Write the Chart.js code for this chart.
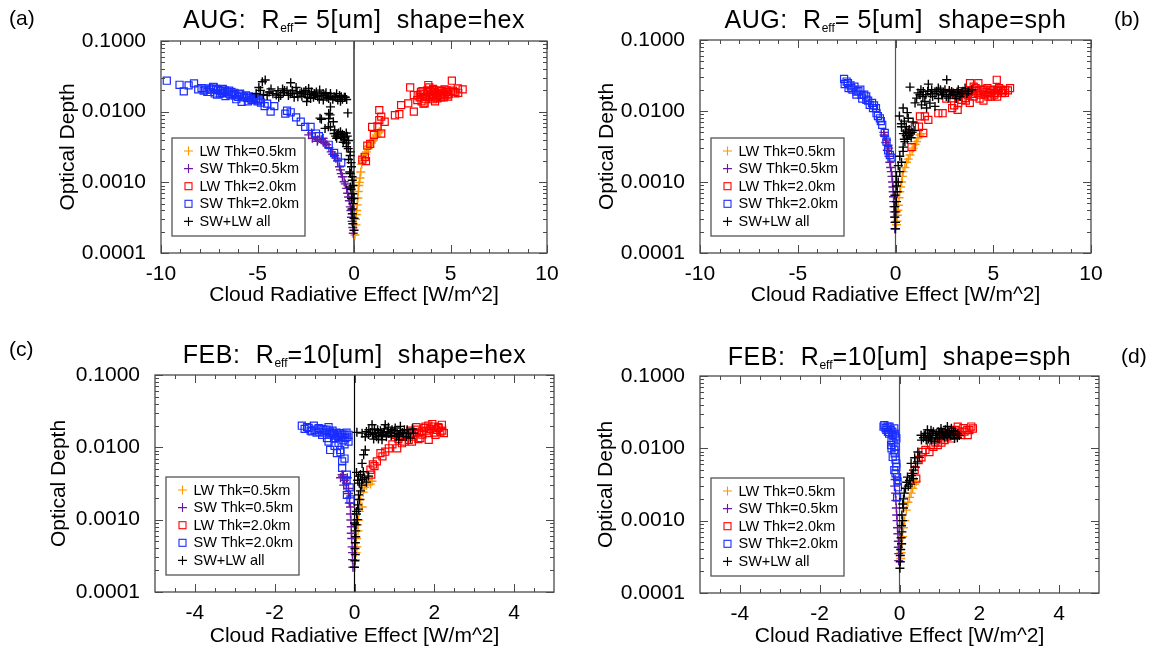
<!DOCTYPE html>
<html>
<head>
<meta charset="utf-8">
<script src="https://cdn.jsdelivr.net/npm/chart.js@4.4.1/dist/chart.umd.min.js"></script>
<style>
  html, body { margin: 0; padding: 0; background: #fff; }
  body { width: 1153px; height: 651px; position: relative; overflow: hidden; font-family: "Liberation Sans", Arial, sans-serif; color: #000; }
  .panel { position: absolute; }
  .panel canvas { display: block; }
  .ttl { position: absolute; font-size: 25px; line-height: 25px; letter-spacing: 0.6px; white-space: pre; transform: translateX(-50%); }
  .ttl .sub { font-size: 12px; letter-spacing: 0; position: relative; top: 4px; }
  .plab { position: absolute; font-size: 21px; line-height: 21px; white-space: pre; }
</style>
</head>
<body>
<script>
// ---------------- data ----------------
const SERIES_LABELS = ['LW Thk=0.5km', 'SW Thk=0.5km', 'LW Thk=2.0km', 'SW Thk=2.0km', 'SW+LW all'];
const Y_MAJOR = [0.0001, 0.001, 0.01, 0.1];
const Y_MINOR = [0.0002,0.0003,0.0004,0.0005,0.0006,0.0007,0.0008,0.0009,0.002,0.003,0.004,0.005,0.006,0.007,0.008,0.009,0.02,0.03,0.04,0.05,0.06,0.07,0.08,0.09];
const X_MAJOR_AUG = [-10, -5, 0, 5, 10];
const X_MINOR_AUG = [-9,-8,-7,-6,-4,-3,-2,-1,1,2,3,4,6,7,8,9];
const X_MAJOR_FEB = [-4, -2, 0, 2, 4];
const X_MINOR_FEB = [-4.5,-3.5,-3,-2.5,-1.5,-1,-0.5,0.5,1,1.5,2.5,3,3.5,4.5];
const ZERO_LINE = [[0, 0.0001], [0, 0.1]];

// (a) AUG hex
const augHexLW05 = [[0.05,0.00018],[0.08,0.0003],[0.10,0.00025],[0.12,0.00035],[0.14,0.0004],[0.17,0.00048],[0.20,0.0006],[0.22,0.00074],[0.25,0.0009],[0.28,0.0010],[0.31,0.00115],[0.35,0.0014],[0.40,0.0018],[0.45,0.0020],[0.50,0.0022],[0.57,0.0025],[0.65,0.0027],[0.70,0.0032],[0.74,0.0030],[0.80,0.0033],[0.90,0.0036],[0.95,0.0038],[1.00,0.0040],[1.10,0.0043],[1.17,0.0047],[1.20,0.0045],[1.25,0.0050],[1.31,0.0052],[1.40,0.0055]];
const augHexSW05 = [[-2.35,0.0047],[-2.20,0.0050],[-2.16,0.0042],[-2.00,0.0044],[-1.90,0.0038],[-1.88,0.0040],[-1.70,0.0040],[-1.60,0.0042],[-1.59,0.0037],[-1.50,0.0036],[-1.41,0.0034],[-1.30,0.0031],[-1.18,0.0027],[-1.10,0.0025],[-1.00,0.0024],[-0.94,0.0022],[-0.85,0.0020],[-0.75,0.00166],[-0.70,0.0015],[-0.66,0.00133],[-0.60,0.0012],[-0.51,0.00102],[-0.45,0.00095],[-0.38,0.00082],[-0.33,0.0007],[-0.28,0.00062],[-0.24,0.00055],[-0.19,0.00045],[-0.16,0.0004],[-0.13,0.00032],[-0.10,0.00028],[-0.06,0.00023],[-0.04,0.00019]];
const augHexLW20 = [[0.43,0.0021],[0.56,0.0023],[0.62,0.0020],[0.69,0.0033],[0.84,0.0035],[1.03,0.0047],[0.94,0.0061],[1.22,0.0062],[1.41,0.0049],[1.31,0.0076],[1.59,0.0072],[1.31,0.0105],[1.41,0.0085],[2.12,0.0089],[2.35,0.0092],[2.44,0.0124],[2.91,0.0220],[2.81,0.0131],[3.10,0.0100],[3.10,0.0172],[3.28,0.0146],[3.30,0.0170],[3.40,0.0160],[3.47,0.0191],[3.50,0.0140],[3.60,0.0180],[3.60,0.0130],[3.66,0.0131],[3.70,0.0150],[3.80,0.0200],[3.85,0.0238],[3.90,0.0160],[3.90,0.0220],[3.94,0.0172],[4.00,0.0180],[4.10,0.0150],[4.10,0.0210],[4.13,0.0202],[4.20,0.0190],[4.20,0.0140],[4.30,0.0170],[4.32,0.0154],[4.40,0.0200],[4.50,0.0181],[4.50,0.0160],[4.60,0.0180],[4.69,0.0207],[4.70,0.0170],[4.78,0.0190],[4.80,0.0200],[4.88,0.0163],[4.90,0.0180],[5.00,0.0190],[5.07,0.0274],[5.12,0.0198],[5.25,0.0181],[5.38,0.0213],[5.63,0.0207],[3.45,0.0175],[3.75,0.0165],[3.95,0.0195],[4.05,0.0165],[4.25,0.0160],[4.35,0.0185],[4.45,0.0170],[4.55,0.0195],[4.65,0.0160],[4.85,0.0175],[5.20,0.0190],[5.40,0.0185],[3.55,0.0195],[4.15,0.0175]];
const augHexSW20 = [[-9.70,0.0274],[-9.04,0.0240],[-8.82,0.0194],[-8.57,0.0236],[-8.29,0.0251],[-8.07,0.0207],[-7.90,0.0215],[-7.79,0.0198],[-7.60,0.0190],[-7.50,0.0213],[-7.40,0.0205],[-7.30,0.0225],[-7.26,0.0220],[-7.22,0.0181],[-7.10,0.0175],[-7.04,0.0202],[-6.90,0.0195],[-6.81,0.0185],[-6.80,0.0210],[-6.66,0.0166],[-6.60,0.0190],[-6.47,0.0198],[-6.40,0.0170],[-6.29,0.0177],[-6.20,0.0185],[-6.10,0.0150],[-6.00,0.0162],[-5.95,0.0175],[-5.82,0.0138],[-5.80,0.0165],[-5.60,0.0170],[-5.53,0.0157],[-5.50,0.0140],[-5.40,0.0155],[-5.31,0.0146],[-5.20,0.0160],[-5.07,0.0149],[-5.00,0.0140],[-4.90,0.0150],[-4.82,0.0134],[-4.63,0.0120],[-4.50,0.0130],[-4.32,0.0100],[-4.13,0.0120],[-3.56,0.0094],[-3.47,0.0103],[-3.28,0.0098],[-3.00,0.0083],[-2.76,0.0072],[-2.53,0.0061],[-2.25,0.0061],[-1.97,0.0049],[-1.82,0.0045],[-1.31,0.0034],[-1.03,0.0026],[-0.84,0.0023],[-0.66,0.0019],[-7.70,0.0205],[-7.45,0.0190],[-7.15,0.0210],[-6.95,0.0180],[-6.70,0.0200],[-6.50,0.0180],[-6.35,0.0190],[-6.15,0.0170],[-5.90,0.0180],[-5.70,0.0160],[-5.45,0.0165],[-5.25,0.0150],[-5.10,0.0155],[-4.95,0.0145]];
const augHexAll = [[-5.07,0.0181],[-4.93,0.0220],[-4.75,0.0265],[-4.69,0.0175],[-4.60,0.0280],[-4.40,0.0190],[-4.20,0.0180],[-4.03,0.0172],[-3.94,0.0198],[-3.80,0.0170],[-3.66,0.0185],[-3.60,0.0200],[-3.47,0.0198],[-3.30,0.0180],[-3.28,0.0257],[-3.19,0.0181],[-3.10,0.0160],[-3.00,0.0220],[-2.91,0.0163],[-2.80,0.0180],[-2.72,0.0190],[-2.60,0.0190],[-2.53,0.0177],[-2.45,0.0139],[-2.40,0.0160],[-2.35,0.0213],[-2.25,0.0154],[-2.20,0.0190],[-2.06,0.0181],[-2.00,0.0170],[-1.88,0.0163],[-1.80,0.0150],[-1.78,0.0202],[-1.76,0.0081],[-1.69,0.0078],[-1.60,0.0180],[-1.59,0.0146],[-1.50,0.0172],[-1.50,0.0058],[-1.40,0.0160],[-1.33,0.0061],[-1.31,0.0154],[-1.31,0.0094],[-1.31,0.0080],[-1.24,0.0090],[-1.22,0.0181],[-1.22,0.0117],[-1.22,0.0061],[-1.10,0.0150],[-1.07,0.0072],[-1.03,0.0163],[-1.03,0.0049],[-1.00,0.0055],[-0.90,0.0180],[-0.90,0.0042],[-0.84,0.0146],[-0.84,0.0047],[-0.70,0.0140],[-0.70,0.0052],[-0.66,0.0163],[-0.66,0.0044],[-0.56,0.0037],[-0.50,0.0160],[-0.50,0.0040],[-0.47,0.0044],[-0.40,0.0036],[-0.38,0.0149],[-0.38,0.0032],[-0.32,0.0096],[-0.30,0.0030],[-0.28,0.0039],[-0.28,0.0021],[-0.20,0.0024],[-0.19,0.0027],[-0.22,0.0014],[-0.19,0.00133],[-0.19,0.00086],[-0.15,0.0019],[-0.15,0.0008],[-0.13,0.00166],[-0.13,0.00059],[-0.10,0.0012],[-0.10,0.00042],[-0.09,0.00107],[-0.09,0.00036],[-0.06,0.00069],[-0.06,0.00026],[-0.05,0.0009],[-0.05,0.0005],[0.00,0.00059],[0.00,0.00031],[0.00,0.00021],[-4.85,0.0200],[-4.50,0.0170],[-4.30,0.0210],[-3.90,0.0160],[-3.70,0.0210],[-3.40,0.0170],[-3.20,0.0200],[-2.95,0.0190],[-2.70,0.0165],[-2.50,0.0200],[-2.30,0.0175],[-2.10,0.0160],[-1.95,0.0190],[-1.70,0.0170],[-1.45,0.0185],[-1.20,0.0165],[-0.95,0.0160],[-0.75,0.0170],[-0.60,0.0150],[-0.45,0.0160],[-0.80,0.0050],[-0.60,0.0048],[-0.40,0.0050],[-0.95,0.0045],[-0.55,0.0043],[-0.35,0.0045]];

// (b) AUG sph
const augSphLW05 = [[0.05,0.00025],[0.07,0.00028],[0.09,0.00034],[0.12,0.0004],[0.14,0.00047],[0.18,0.0006],[0.22,0.00073],[0.26,0.00085],[0.31,0.0010],[0.35,0.0012],[0.39,0.0014],[0.48,0.0016],[0.56,0.0019],[0.65,0.0021],[0.74,0.0024],[0.85,0.0028],[0.91,0.0030],[1.00,0.0034],[1.08,0.0037],[1.15,0.0042],[1.25,0.0046],[1.33,0.0048]];
const augSphSW05 = [[-0.60,0.0050],[-0.58,0.0046],[-0.55,0.0044],[-0.50,0.0036],[-0.46,0.0039],[-0.42,0.0028],[-0.38,0.0033],[-0.35,0.0030],[-0.33,0.0023],[-0.29,0.0019],[-0.25,0.0016],[-0.21,0.0014],[-0.18,0.0012],[-0.15,0.0010],[-0.13,0.00085],[-0.12,0.00073],[-0.10,0.00062],[-0.09,0.00053],[-0.08,0.00045],[-0.07,0.00038],[-0.05,0.00032],[-0.03,0.00027],[-0.03,0.00022]];
const augSphLW20 = [[0.82,0.0031],[0.99,0.0060],[1.20,0.0060],[1.42,0.0049],[1.25,0.0084],[1.50,0.0084],[1.68,0.0075],[2.19,0.0093],[2.41,0.0093],[2.60,0.0150],[2.80,0.0180],[2.90,0.0110],[3.00,0.0120],[3.10,0.0170],[3.18,0.0104],[3.21,0.0129],[3.25,0.0160],[3.38,0.0144],[3.40,0.0190],[3.56,0.0152],[3.60,0.0140],[3.70,0.0170],[3.80,0.0130],[3.81,0.0247],[3.90,0.0190],[4.00,0.0160],[4.00,0.0220],[4.10,0.0210],[4.20,0.0180],[4.24,0.0247],[4.30,0.0150],[4.40,0.0200],[4.50,0.0188],[4.50,0.0140],[4.60,0.0170],[4.70,0.0210],[4.75,0.0160],[4.80,0.0180],[4.90,0.0160],[5.00,0.0200],[5.10,0.0180],[5.18,0.0275],[5.18,0.0199],[5.20,0.0160],[5.30,0.0210],[5.44,0.0178],[5.50,0.0190],[5.61,0.0199],[5.86,0.0210],[3.50,0.0175],[3.75,0.0185],[3.95,0.0175],[4.15,0.0190],[4.35,0.0170],[4.55,0.0200],[4.65,0.0185],[4.85,0.0195],[5.05,0.0170],[5.25,0.0190],[5.40,0.0200],[5.60,0.0180],[5.75,0.0195]];
const augSphSW20 = [[-2.63,0.0284],[-2.60,0.0240],[-2.50,0.0260],[-2.43,0.0247],[-2.40,0.0210],[-2.30,0.0230],[-2.26,0.0210],[-2.20,0.0200],[-2.10,0.0220],[-2.00,0.0188],[-2.00,0.0170],[-1.90,0.0190],[-1.80,0.0200],[-1.74,0.0169],[-1.70,0.0150],[-1.60,0.0170],[-1.50,0.0160],[-1.49,0.0144],[-1.40,0.0140],[-1.32,0.0122],[-1.20,0.0130],[-1.15,0.0110],[-1.10,0.0120],[-1.00,0.0110],[-0.97,0.0093],[-0.90,0.0085],[-0.80,0.0079],[-0.75,0.0072],[-0.68,0.0064],[-0.55,0.0049],[-0.46,0.0037],[-0.38,0.0028],[-0.29,0.0024],[-0.21,0.0022]];
const augSphAll = [[0.00,0.00022],[0.00,0.00027],[-0.03,0.00032],[0.02,0.00038],[-0.03,0.00045],[0.05,0.00053],[-0.03,0.00065],[0.09,0.00073],[0.05,0.00088],[0.14,0.0010],[0.05,0.0012],[0.22,0.0014],[0.14,0.0017],[0.31,0.0019],[0.22,0.0023],[0.39,0.0027],[0.39,0.0031],[0.48,0.0037],[0.45,0.0040],[0.40,0.0048],[0.55,0.0045],[0.60,0.0040],[0.65,0.0050],[0.75,0.0048],[0.80,0.0042],[0.50,0.0052],[0.70,0.0055],[0.85,0.0050],[0.95,0.0053],[0.31,0.0060],[0.30,0.0066],[0.45,0.0072],[0.65,0.0079],[0.20,0.0085],[0.90,0.0070],[0.60,0.0095],[0.39,0.0110],[0.74,0.0217],[1.08,0.0152],[1.25,0.0169],[1.33,0.0122],[1.42,0.0188],[1.50,0.0136],[1.59,0.0110],[1.68,0.0239],[1.76,0.0129],[1.85,0.0199],[2.02,0.0178],[2.02,0.0116],[2.19,0.0210],[2.36,0.0169],[2.53,0.0199],[2.62,0.0275],[2.70,0.0152],[2.87,0.0188],[3.04,0.0169],[3.21,0.0199],[3.38,0.0178],[3.56,0.0210],[3.73,0.0188],[3.90,0.0199],[1.90,0.0160],[2.20,0.0150],[2.45,0.0185],[2.80,0.0170],[3.10,0.0150],[1.40,0.0160],[2.60,0.0160],[3.30,0.0160],[1.15,0.0180],[1.30,0.0200],[1.55,0.0170],[1.65,0.0190],[1.80,0.0175],[2.10,0.0190],[2.30,0.0200],[2.40,0.0170],[2.75,0.0195],[2.95,0.0180],[3.15,0.0185],[3.45,0.0190],[3.65,0.0175],[1.00,0.0130],[0.55,0.0060],[0.70,0.0045]];

// (c) FEB hex
const febHexLW05 = [[0.02,0.00028],[0.04,0.00035],[0.05,0.00055],[0.06,0.00042],[0.08,0.00085],[0.09,0.0007],[0.10,0.00099],[0.12,0.0013],[0.15,0.0019],[0.19,0.0015],[0.22,0.0024],[0.25,0.0028],[0.27,0.0034],[0.30,0.0030],[0.35,0.0036],[0.36,0.0040],[0.40,0.0031],[0.44,0.0034]];
const febHexSW05 = [[-0.35,0.0038],[-0.31,0.0042],[-0.30,0.0040],[-0.27,0.0030],[-0.25,0.0035],[-0.20,0.0032],[-0.18,0.0038],[-0.15,0.0027],[-0.15,0.0023],[-0.13,0.0017],[-0.12,0.0020],[-0.10,0.0015],[-0.10,0.0012],[-0.09,0.00099],[-0.08,0.0008],[-0.08,0.00065],[-0.07,0.00055],[-0.06,0.00042],[-0.05,0.00035],[-0.05,0.00028],[-0.04,0.00022]];
const febHexLW20 = [[0.40,0.0049],[0.42,0.0042],[0.46,0.0058],[0.50,0.0055],[0.56,0.0064],[0.65,0.0083],[0.70,0.0075],[0.77,0.0087],[0.86,0.0097],[0.95,0.0110],[1.02,0.0149],[1.07,0.0097],[1.10,0.0130],[1.19,0.0114],[1.20,0.0140],[1.25,0.0120],[1.30,0.0150],[1.36,0.0127],[1.40,0.0170],[1.44,0.0120],[1.48,0.0141],[1.50,0.0160],[1.55,0.0190],[1.57,0.0175],[1.60,0.0130],[1.65,0.0134],[1.69,0.0166],[1.70,0.0150],[1.78,0.0194],[1.80,0.0170],[1.86,0.0157],[1.86,0.0127],[1.90,0.0180],[1.95,0.0210],[1.99,0.0194],[2.00,0.0160],[2.03,0.0149],[2.10,0.0190],[2.11,0.0184],[2.19,0.0205],[2.20,0.0170],[2.24,0.0157],[1.75,0.0185],[1.85,0.0200],[2.05,0.0175],[1.62,0.0160],[2.15,0.0165]];
const febHexSW20 = [[-1.32,0.0199],[-1.25,0.0180],[-1.19,0.0190],[-1.10,0.0170],[-1.07,0.0166],[-1.02,0.0199],[-0.95,0.0160],[-0.90,0.0184],[-0.85,0.0180],[-0.81,0.0149],[-0.75,0.0160],[-0.70,0.0175],[-0.69,0.0134],[-0.65,0.0190],[-0.65,0.0120],[-0.61,0.0092],[-0.60,0.0150],[-0.56,0.0157],[-0.55,0.0170],[-0.50,0.0145],[-0.50,0.0105],[-0.48,0.0134],[-0.45,0.0160],[-0.44,0.0083],[-0.40,0.0140],[-0.40,0.0115],[-0.36,0.0157],[-0.36,0.0092],[-0.35,0.0085],[-0.31,0.0064],[-0.31,0.0052],[-0.30,0.0150],[-0.28,0.0125],[-0.25,0.0110],[-0.25,0.0070],[-0.23,0.0134],[-0.20,0.0160],[-0.20,0.0035],[-0.19,0.0042],[-0.19,0.0022],[-0.15,0.0149],[-0.15,0.0120],[-0.12,0.0028],[-0.10,0.0019],[-1.15,0.0185],[-1.00,0.0175],[-0.88,0.0165],[-0.78,0.0175],[-0.62,0.0165],[-0.52,0.0155],[-0.42,0.0150],[-0.33,0.0140],[-0.25,0.0150],[-0.18,0.0140]];
const febHexAll = [[0.06,0.0161],[0.19,0.0157],[0.27,0.0140],[0.35,0.0150],[0.36,0.0175],[0.40,0.0160],[0.44,0.0205],[0.50,0.0180],[0.52,0.0155],[0.55,0.0140],[0.60,0.0160],[0.60,0.0130],[0.65,0.0170],[0.69,0.0127],[0.70,0.0150],[0.75,0.0180],[0.77,0.0205],[0.80,0.0140],[0.85,0.0190],[0.86,0.0155],[0.90,0.0160],[0.94,0.0175],[1.00,0.0170],[1.05,0.0140],[1.07,0.0155],[1.11,0.0127],[1.15,0.0195],[1.15,0.0170],[1.20,0.0160],[1.23,0.0142],[1.30,0.0140],[1.32,0.0175],[1.40,0.0134],[1.45,0.0180],[1.48,0.0157],[0.27,0.0092],[0.23,0.0079],[0.19,0.0060],[0.22,0.0046],[0.35,0.0040],[0.05,0.0045],[0.10,0.0040],[0.15,0.0042],[0.20,0.0036],[0.25,0.0038],[0.30,0.0033],[0.12,0.0032],[0.18,0.0030],[0.08,0.0035],[0.15,0.0025],[0.10,0.0022],[0.12,0.0019],[0.08,0.0016],[0.10,0.0014],[0.05,0.0013],[0.05,0.0012],[0.07,0.0010],[0.00,0.0009],[0.04,0.00085],[0.03,0.0007],[0.03,0.00058],[0.02,0.00048],[0.01,0.0004],[0.02,0.00033],[0.01,0.00027],[0.00,0.00022],[0.45,0.0150],[0.58,0.0175],[0.68,0.0145],[0.82,0.0165],[0.92,0.0145],[1.02,0.0185],[1.12,0.0150],[1.25,0.0175],[1.35,0.0155],[0.30,0.0165],[0.48,0.0130],[0.72,0.0160]];

// (d) FEB sph
const febSphLW05 = [[0.03,0.0003],[0.04,0.00036],[0.06,0.00048],[0.08,0.0006],[0.10,0.0008],[0.13,0.0010],[0.17,0.0014],[0.21,0.0018],[0.25,0.0021],[0.29,0.0024],[0.33,0.0028],[0.38,0.0032],[0.42,0.0035]];
const febSphSW05 = [[-0.12,0.0030],[-0.11,0.0037],[-0.10,0.0024],[-0.09,0.0019],[-0.08,0.0015],[-0.07,0.0012],[-0.06,0.0010],[-0.05,0.0008],[-0.04,0.00066],[-0.03,0.00052],[-0.03,0.00043],[-0.02,0.00035],[-0.02,0.00028]];
const febSphLW20 = [[0.38,0.0050],[0.42,0.0038],[0.48,0.0069],[0.55,0.0075],[0.58,0.0089],[0.65,0.0095],[0.75,0.0089],[0.79,0.0111],[0.85,0.0105],[0.90,0.0120],[0.96,0.0111],[1.00,0.0145],[1.04,0.0137],[1.05,0.0120],[1.10,0.0160],[1.13,0.0130],[1.20,0.0145],[1.21,0.0150],[1.29,0.0137],[1.30,0.0170],[1.35,0.0150],[1.38,0.0160],[1.40,0.0180],[1.45,0.0155],[1.46,0.0199],[1.50,0.0170],[1.55,0.0152],[1.60,0.0190],[1.63,0.0170],[1.70,0.0180],[1.71,0.0152],[1.75,0.0179],[1.80,0.0200],[1.84,0.0188]];
const febSphSW20 = [[-0.40,0.0200],[-0.38,0.0210],[-0.35,0.0190],[-0.33,0.0180],[-0.30,0.0200],[-0.29,0.0169],[-0.26,0.0160],[-0.25,0.0199],[-0.22,0.0180],[-0.21,0.0111],[-0.20,0.0130],[-0.20,0.0100],[-0.18,0.0170],[-0.17,0.0152],[-0.17,0.0076],[-0.15,0.0120],[-0.13,0.0188],[-0.13,0.0094],[-0.13,0.0050],[-0.12,0.0160],[-0.12,0.0085],[-0.10,0.0145],[-0.10,0.0105],[-0.10,0.0070],[-0.10,0.0045],[-0.08,0.0137],[-0.08,0.0062],[-0.08,0.0055],[-0.06,0.0040],[-0.06,0.0021],[-0.05,0.0035],[-0.04,0.0029]];
const febSphAll = [[0.54,0.0152],[0.55,0.0130],[0.60,0.0140],[0.65,0.0160],[0.67,0.0130],[0.70,0.0180],[0.71,0.0160],[0.75,0.0150],[0.79,0.0178],[0.80,0.0130],[0.85,0.0170],[0.88,0.0123],[0.90,0.0150],[0.92,0.0160],[0.95,0.0140],[1.00,0.0160],[1.00,0.0135],[1.04,0.0188],[1.05,0.0170],[1.10,0.0150],[1.13,0.0144],[1.15,0.0180],[1.20,0.0140],[1.20,0.0200],[1.21,0.0168],[1.25,0.0160],[1.30,0.0190],[1.34,0.0152],[1.38,0.0137],[1.40,0.0170],[1.46,0.0160],[1.50,0.0150],[0.46,0.0089],[0.50,0.0075],[0.45,0.0065],[0.38,0.0074],[0.29,0.0062],[0.40,0.0055],[0.35,0.0050],[0.33,0.0045],[0.20,0.0040],[0.25,0.0036],[0.30,0.0042],[0.35,0.0038],[0.28,0.0032],[0.22,0.0030],[0.18,0.0034],[0.15,0.0028],[0.12,0.0024],[0.10,0.0020],[0.08,0.0017],[0.10,0.0015],[0.06,0.0012],[0.08,0.0010],[0.05,0.00085],[0.06,0.0007],[0.04,0.00058],[0.05,0.00048],[0.03,0.0004],[0.02,0.00033],[0.02,0.00027],[0.01,0.00022],[0.62,0.0150],[0.78,0.0140],[0.82,0.0160],[0.97,0.0170],[1.08,0.0160],[1.18,0.0155],[1.28,0.0150],[1.35,0.0175],[0.73,0.0135],[1.45,0.0140]];

// ---------------- styles ----------------
const SERIES_COLORS = ['rgb(255,150,0)', 'rgb(105,25,165)', 'rgb(255,0,0)', 'rgb(25,45,255)', 'rgb(0,0,0)'];
const SERIES_STYLES = ['cross', 'cross', 'rect', 'rect', 'cross'];
const FONT = "'Liberation Sans', Arial, Helvetica, sans-serif";
Chart.defaults.font.family = FONT;
Chart.defaults.color = '#000';

const PANELS = [
  { key: 'a', series: [augHexLW05, augHexSW05, augHexLW20, augHexSW20, augHexAll], xMin: -10, xMax: 10, xMajor: X_MAJOR_AUG, xMinor: X_MINOR_AUG,
    box: {l: 0, t: 0, w: 576, h: 325}, area: {l: 161, t: 41, r: 547, b: 253}, yTitlePad: 56, xTitlePad: 17, zero: '#000',
    title: ['AUG:  R', 'eff', '= 5[um]  shape=hex'], titleTop: 7, tag: '(a)', tagX: 9, tagY: 7 },
  { key: 'b', series: [augSphLW05, augSphSW05, augSphLW20, augSphSW20, augSphAll], xMin: -10, xMax: 10, xMajor: X_MAJOR_AUG, xMinor: X_MINOR_AUG,
    box: {l: 576, t: 0, w: 577, h: 325}, area: {l: 124, t: 40, r: 515, b: 253}, yTitlePad: 18.5, xTitlePad: 17, zero: '#555',
    title: ['AUG:  R', 'eff', '= 5[um]  shape=sph'], titleTop: 7, tag: '(b)', tagX: 1114, tagY: 8 },
  { key: 'c', series: [febHexLW05, febHexSW05, febHexLW20, febHexSW20, febHexAll], xMin: -5, xMax: 5, xMajor: X_MAJOR_FEB, xMinor: X_MINOR_FEB,
    box: {l: 0, t: 325, w: 576, h: 326}, area: {l: 155, t: 50, r: 554, b: 267}, yTitlePad: 47, xTitlePad: 2.5, zero: '#000',
    title: ['FEB:  R', 'eff', '=10[um]  shape=hex'], titleTop: 342, tag: '(c)', tagX: 9, tagY: 338 },
  { key: 'd', series: [febSphLW05, febSphSW05, febSphLW20, febSphSW20, febSphAll], xMin: -5, xMax: 5, xMajor: X_MAJOR_FEB, xMinor: X_MINOR_FEB,
    box: {l: 576, t: 325, w: 577, h: 326}, area: {l: 124, t: 51, r: 523, b: 268}, yTitlePad: 18, xTitlePad: 2.5, zero: '#555',
    title: ['FEB:  R', 'eff', '=10[um]  shape=sph'], titleTop: 344, tag: '(d)', tagX: 1121, tagY: 345 }
];

function framePlugin(p) {
  return {
    id: 'frame' + p.key,
    afterDatasetsDraw(chart) {
      const {ctx, chartArea: a, scales: {x, y}} = chart;
      ctx.save();
      ctx.strokeStyle = '#4a4a4a';
      ctx.lineWidth = 1.3;
      ctx.strokeRect(a.left, a.top, a.right - a.left, a.bottom - a.top);
      ctx.lineWidth = 1;
      const seg = (x1, y1, x2, y2) => { ctx.beginPath(); ctx.moveTo(x1, y1); ctx.lineTo(x2, y2); ctx.stroke(); };
      const xt = (vals, len) => vals.forEach(v => { const px = Math.round(x.getPixelForValue(v)) + 0.5; seg(px, a.bottom, px, a.bottom - len); seg(px, a.top, px, a.top + len); });
      const yt = (vals, len) => vals.forEach(v => { const py = Math.round(y.getPixelForValue(v)) + 0.5; seg(a.left, py, a.left + len, py); seg(a.right, py, a.right - len, py); });
      xt(p.xMajor, 8); xt(p.xMinor, 4);
      yt(Y_MAJOR, 8); yt(Y_MINOR, 4);
      ctx.restore();
    },
    afterDraw(chart) {
      const {ctx, chartArea: a} = chart;
      const bw = 133, bh = 98;
      const bx = a.left + 11, by = a.bottom - 17 - bh;
      ctx.save();
      ctx.fillStyle = '#fff';
      ctx.fillRect(bx, by, bw, bh);
      ctx.strokeStyle = '#555';
      ctx.lineWidth = 1.3;
      ctx.strokeRect(bx, by, bw, bh);
      ctx.font = '14.5px ' + FONT;
      ctx.textBaseline = 'middle';
      ctx.textAlign = 'left';
      chart.data.datasets.forEach((ds, i) => {
        if (i >= SERIES_LABELS.length) return;
        const cy = by + 13 + i * 17.6;
        const cx = bx + 16.5;
        ctx.strokeStyle = SERIES_COLORS[i];
        ctx.lineWidth = 1.1;
        if (SERIES_STYLES[i] === 'cross') {
          ctx.beginPath();
          ctx.moveTo(cx - 4.5, cy); ctx.lineTo(cx + 4.5, cy);
          ctx.moveTo(cx, cy - 4.5); ctx.lineTo(cx, cy + 4.5);
          ctx.stroke();
        } else {
          ctx.strokeRect(cx - 3.5, cy - 3.5, 7, 7);
        }
        ctx.fillStyle = '#000';
        ctx.fillText(ds.label, bx + 27.5, cy + 0.5);
      });
      ctx.restore();
    }
  };
}

function buildPanel(p) {
  const div = document.createElement('div');
  div.className = 'panel';
  Object.assign(div.style, {left: p.box.l + 'px', top: p.box.t + 'px', width: p.box.w + 'px', height: p.box.h + 'px'});
  const cv = document.createElement('canvas');
  div.appendChild(cv);
  document.body.appendChild(div);

  const datasets = p.series.map((arr, i) => ({
    type: 'scatter',
    label: SERIES_LABELS[i],
    data: arr.map(([x, y]) => ({x, y})),
    pointStyle: SERIES_STYLES[i],
    pointRadius: SERIES_STYLES[i] === 'rect' ? 5 : 4.5,
    borderColor: SERIES_COLORS[i],
    backgroundColor: 'rgba(0,0,0,0)',
    borderWidth: SERIES_STYLES[i] === 'rect' ? 1.2 : 1.4,
    order: 5 - i
  }));
  datasets.push({
    type: 'line', label: 'zero', data: ZERO_LINE.map(([x, y]) => ({x, y})),
    borderColor: p.zero, borderWidth: 1.2, pointRadius: 0, fill: false, order: 10
  });

  new Chart(cv, {
    type: 'scatter',
    data: {datasets},
    options: {
      responsive: true, maintainAspectRatio: false, animation: false, events: [],
      layout: {padding: {left: 0, top: p.area.t, right: p.box.w - p.area.r, bottom: 0}},
      scales: {
        x: {
          type: 'linear', position: 'bottom', min: p.xMin, max: p.xMax,
          grid: {display: false}, border: {display: false},
          afterBuildTicks: s => { s.ticks = p.xMajor.map(v => ({value: v})); },
          afterFit: s => { s.height = p.box.h - p.area.b; },
          ticks: {padding: 1, font: {size: 21}, color: '#000', maxRotation: 0, autoSkip: false},
          title: {display: true, text: 'Cloud Radiative Effect [W/m^2]', font: {size: 21}, color: '#000', padding: {top: 0, bottom: p.xTitlePad}}
        },
        y: {
          type: 'logarithmic', position: 'left', min: 0.0001, max: 0.1,
          grid: {display: false}, border: {display: false},
          afterBuildTicks: s => { s.ticks = Y_MAJOR.map(v => ({value: v})); },
          afterFit: s => { s.width = p.area.l; },
          ticks: {padding: 7, font: {size: 21}, color: '#000', autoSkip: false, callback: v => Number(v).toFixed(4)},
          title: {display: true, text: 'Optical Depth', font: {size: 21}, color: '#000', padding: {top: p.yTitlePad, bottom: 0}}
        }
      },
      plugins: {legend: {display: false}, tooltip: {enabled: false}, title: {display: false}}
    },
    plugins: [framePlugin(p)]
  });

  const t = document.createElement('div');
  t.className = 'ttl';
  t.style.left = (p.box.l + (p.area.l + p.area.r) / 2) + 'px';
  t.style.top = p.titleTop + 'px';
  t.appendChild(document.createTextNode(p.title[0]));
  const s = document.createElement('span');
  s.className = 'sub';
  s.textContent = p.title[1];
  t.appendChild(s);
  t.appendChild(document.createTextNode(p.title[2]));
  document.body.appendChild(t);

  const g = document.createElement('div');
  g.className = 'plab';
  g.style.left = p.tagX + 'px';
  g.style.top = p.tagY + 'px';
  g.textContent = p.tag;
  document.body.appendChild(g);
}

PANELS.forEach(buildPanel);
</script>
</body>
</html>
